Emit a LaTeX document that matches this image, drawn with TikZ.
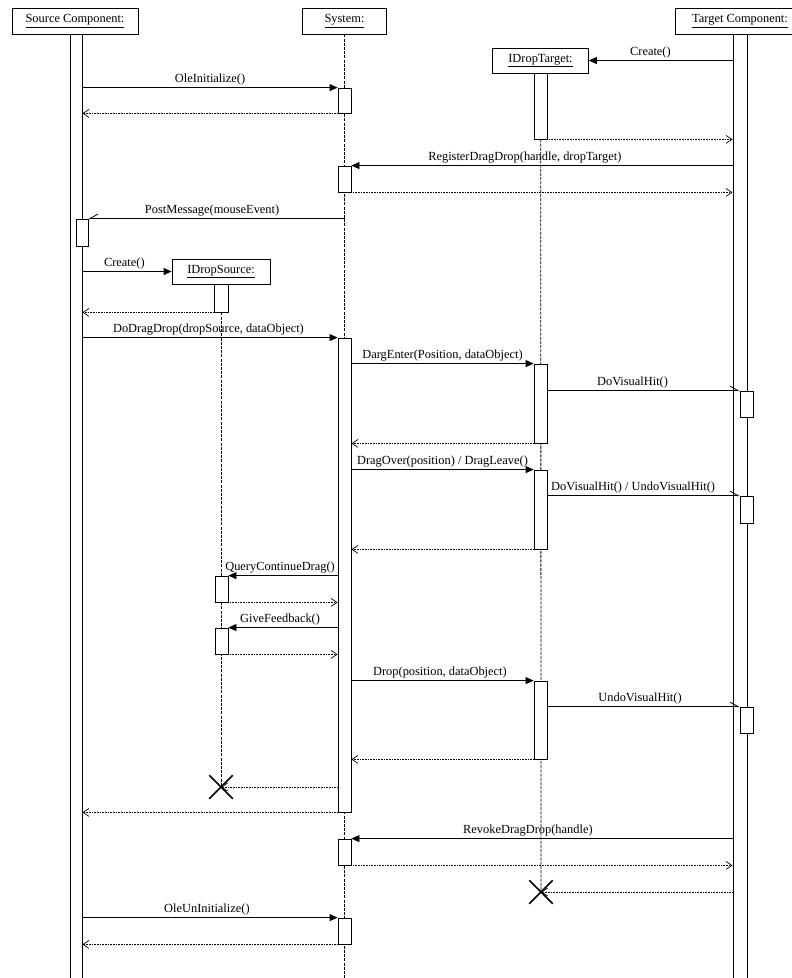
\documentclass[tikz,border=0pt]{standalone}
\usepackage{fontspec}
\setmainfont{Liberation Serif}
\usetikzlibrary{arrows.meta,fit,shapes.misc}
\begin{document}
\begin{tikzpicture}[x=1pt,y=-1pt,
  every node/.style={font=\fontsize{12.4}{14}\selectfont},
  head/.style={draw, line width=0.8pt, fill=white, minimum height=26pt, inner sep=0pt},
  actbar/.style={draw, line width=0.8pt, fill=white, inner sep=0pt},
  life/.style={line width=0.8pt, dash pattern=on 3pt off 1.2pt},
  call/.style={line width=0.8pt, -{Triangle[length=8pt,width=7pt]}},
  ret/.style={line width=0.7pt, dash pattern=on 0.8pt off 0.8pt, -{Straight Barb[length=6pt,width=8pt,line width=0.7pt]}},
  asyncr/.style={line width=0.8pt, -{Straight Barb[harpoon,length=8pt,width=9pt,line width=0.8pt]}},
  asyncl/.style={line width=0.8pt, -{Straight Barb[harpoon,swap,length=8pt,width=9pt,line width=0.8pt]}},
  lbl/.style={anchor=base, yshift=5.5pt, inner sep=0pt},
  xmark/.style={draw, cross out, line width=1.5pt, minimum size=22pt, inner sep=0pt},
]
\useasboundingbox (0,0) rectangle (792,978);
\clip (0,0) rectangle (792,978);

% headers
\node[head, minimum width=126pt] (src) at (75,21) {\underline{Source Component:}};
\node[head, minimum width=84pt] (sys) at (344.5,21) {\underline{System:}};
\node[head, minimum width=130pt] (tgt) at (740,21) {\underline{Target Component:}};
\node[head, minimum width=96pt, minimum height=25pt] (idt) at (540.5,60.5) {\underline{IDropTarget:}};
\node[head, minimum width=98pt, minimum height=25pt] (ids) at (221,271.5) {\underline{IDropSource:}};

% first activation bars of created objects
\node[actbar, fit={(534.5,73) (547,139)}] (idtbar0) {};
\node[actbar, fit={(214,284) (228,312)}] (idsbar0) {};

% destruction marks
\node[xmark] (xids) at (221,787) {};
\node[xmark] (xidt) at (541,892) {};

% lifelines
\coordinate (sysend) at (344.5,990);
\draw[life] (sys.south) -- (sysend);
\draw[life] (idtbar0.south) -- (xidt.center);
\draw[life] (idsbar0.south) -- (xids.center);

% main bars of components
\node[actbar, fit={(70,34) (82,990)}] (sbar) {};
\node[actbar, fit={(733,34) (747,990)}] (tbar) {};

% activation bars
\node[actbar, fit={(338,88) (351,113)}] (ys1) {};
\node[actbar, fit={(338,166) (351,192)}] (ys2) {};
\node[actbar, fit={(338,338) (351,812)}] (ys3) {};
\node[actbar, fit={(338,839) (351,865)}] (ys4) {};
\node[actbar, fit={(338,918) (351,944)}] (ys5) {};
\node[actbar, fit={(534,364) (547,443)}] (idt1) {};
\node[actbar, fit={(534,470) (547,549)}] (idt2) {};
\node[actbar, fit={(534,681) (547,759)}] (idt3) {};
\node[actbar, fit={(215,576) (228,602)}] (ids1) {};
\node[actbar, fit={(215,628) (228,654)}] (ids2) {};
\node[actbar, fit={(76,219) (88,246)}] (ssub) {};
\node[actbar, fit={(740,391) (753,417)}] (t1) {};
\node[actbar, fit={(740,496) (753,523)}] (t2) {};
\node[actbar, fit={(740,707) (753,733)}] (t3) {};

% messages
\draw[call] (sbar.east |- ys1.north) -- node[lbl,pos=.5] (l1) {OleInitialize()} (ys1.north west);
\draw[ret] (ys1.south west) -- (sbar.east |- ys1.south);

\draw[call] (tbar.west |- idt.east) -- node[lbl,pos=.572] (l2) {Create()} (idt.east);
\draw[ret] (idtbar0.south east) -- (tbar.west |- idtbar0.south);

\draw[call] (tbar.west |- ys2.north) -- node[lbl,pos=.545] (l3) {RegisterDragDrop(handle, dropTarget)} (ys2.north east);
\draw[ret] (ys2.south east) -- (tbar.west |- ys2.south);

\draw[asyncl] (sys.south |- ssub.north) -- node[lbl,pos=.517] (l4) {PostMessage(mouseEvent)} (ssub.north east);

\draw[call] (sbar.east |- ids.west) -- node[lbl,pos=.47] (l5) {Create()} (ids.west);
\draw[ret] (idsbar0.south west) -- (sbar.east |- idsbar0.south);

\draw[call] (sbar.east |- ys3.north) -- node[lbl,pos=.494] (l6) {DoDragDrop(dropSource, dataObject)} (ys3.north west);

\draw[call] (ys3.east |- idt1.north) -- node[lbl,pos=.5] (l7) {DargEnter(Position, dataObject)} (idt1.north west);
\draw[asyncr] (idt1.east |- t1.north) -- node[lbl,pos=.443] (l8) {DoVisualHit()} (t1.north west);
\draw[ret] (idt1.south west) -- (ys3.east |- idt1.south);

\draw[call] (ys3.east |- idt2.north) -- node[lbl,pos=.5] (l9) {DragOver(position) / DragLeave()} (idt2.north west);
\draw[asyncr] (idt2.east |- t2.north) -- node[lbl,pos=.446] (l10) {DoVisualHit() / UndoVisualHit()} (t2.north west);
\draw[ret] (idt2.south west) -- (ys3.east |- idt2.south);

\draw[call] (ys3.west |- ids1.north) -- node[lbl,pos=.527] (l11) {QueryContinueDrag()} (ids1.north east);
\draw[ret] (ids1.south east) -- (ys3.west |- ids1.south);
\draw[call] (ys3.west |- ids2.north) -- node[lbl,pos=.527] (l12) {GiveFeedback()} (ids2.north east);
\draw[ret] (ids2.south east) -- (ys3.west |- ids2.south);

\draw[call] (ys3.east |- idt3.north) -- node[lbl,pos=.486] (l13) {Drop(position, dataObject)} (idt3.north west);
\draw[asyncr] (idt3.east |- t3.north) -- node[lbl,pos=.482] (l14) {UndoVisualHit()} (t3.north west);
\draw[ret] (idt3.south west) -- (ys3.east |- idt3.south);

\draw[ret] (ys3.west |- xids.center) -- (xids.center);
\draw[ret] (ys3.south west) -- (sbar.east |- ys3.south);

\draw[call] (tbar.west |- ys4.north) -- node[lbl,pos=.537] (l15) {RevokeDragDrop(handle)} (ys4.north east);
\draw[ret] (ys4.south east) -- (tbar.west |- ys4.south);
\draw[ret] (tbar.west |- xidt.center) -- (xidt.center);

\draw[call] (sbar.east |- ys5.north) -- node[lbl,pos=.488] (l16) {OleUnInitialize()} (ys5.north west);
\draw[ret] (ys5.south west) -- (sbar.east |- ys5.south);
\end{tikzpicture}
\end{document}
